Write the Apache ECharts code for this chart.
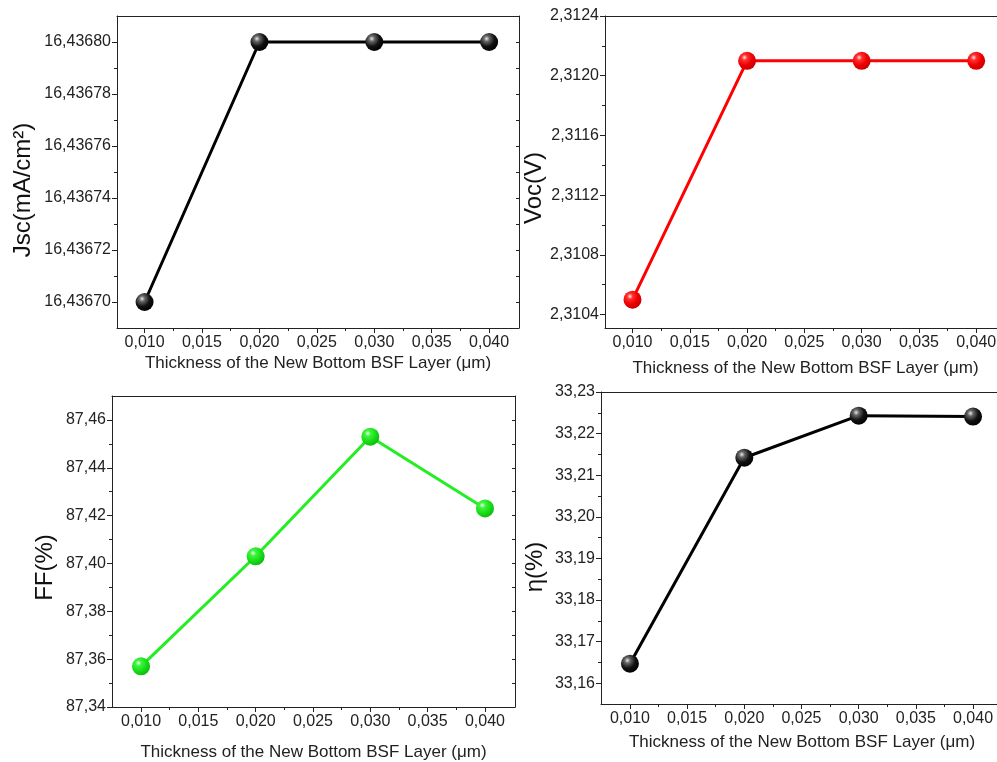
<!DOCTYPE html>
<html lang="en">
<head>
<meta charset="UTF-8">
<title>BSF layer thickness</title>
<style>html,body{margin:0;padding:0;background:#fff;overflow:hidden;} #main{width:1012px;height:762px;}</style>
</head>
<body>
<div id="main"></div>
<script src="https://cdn.jsdelivr.net/npm/echarts@6.0.0/dist/echarts.min.js"></script>
<script>
// data
var thickness = [0.010, 0.020, 0.030, 0.040];
var jscData = [16.43670, 16.43680, 16.43680, 16.43680];
var vocData = [2.3105, 2.3121, 2.3121, 2.3121];
var ffData = [87.357, 87.403, 87.453, 87.423];
var etaData = [33.1647, 33.2142, 33.2243, 33.2241];

// tick labels
var xTicks = [0.010, 0.015, 0.020, 0.025, 0.030, 0.035, 0.040];
var jscTicks = [16.43670, 16.43672, 16.43674, 16.43676, 16.43678, 16.43680];
var vocTicks = [2.3104, 2.3108, 2.3112, 2.3116, 2.3120, 2.3124];
var ffTicks = [87.34, 87.36, 87.38, 87.40, 87.42, 87.44, 87.46];
var etaTicks = [33.16, 33.17, 33.18, 33.19, 33.20, 33.21, 33.22, 33.23];

var xTitle = 'Thickness of the New Bottom BSF Layer (\u03bcm)';
var FONT = '"Liberation Sans", Arial, sans-serif';
var AXIS_COLOR = '#222';

function mids(a) {
    var r = [];
    for (var i = 0; i < a.length - 1; i++) r.push((a[i] + a[i + 1]) / 2);
    return r;
}
function fmt(d) {
    return function (v) { return v.toFixed(d).replace('.', ','); };
}
function ball(c0, c1, c2, c3) {
    return {type: 'radial', x: 0.36, y: 0.32, r: 0.72, colorStops: [
        {offset: 0, color: c0}, {offset: 0.22, color: c1}, {offset: 0.6, color: c2}, {offset: 1, color: c3}]};
}

// the right-hand panels run past the 997px window, as in the source figure
var panels = [
    {grid: {left: 117, top: 16, width: 402, height: 312}, xMin: 0.0076, xMax: 0.0426,
        yMin: 16.43669, yMax: 16.43681, yTicks: jscTicks, yDec: 5, yName: 'Jsc(mA/cm\u00b2)',
        yGap: 82, yPad: 36, xGap: 27, data: jscData, color: '#000',
        marker: ball('#e8e8e8', '#666', '#111', '#000')},
    {grid: {left: 605, top: 16, width: 401, height: 312}, xMin: 0.0076, xMax: 0.0426,
        yMin: 2.31031, yMax: 2.3124, yTicks: vocTicks, yDec: 4, yName: 'Voc(V)',
        yGap: 58, yPad: 32, xGap: 32, data: vocData, color: '#ff0000',
        marker: ball('#ffe6e6', '#ff3030', '#ee0000', '#c80000')},
    {grid: {left: 112, top: 396, width: 403, height: 312}, xMin: 0.00747, xMax: 0.04262,
        yMin: 87.34, yMax: 87.47, yTicks: ffTicks, yDec: 2, yName: 'FF(%)',
        yGap: 55, yPad: 32, xGap: 37, data: ffData, color: '#22ee22',
        marker: ball('#efffef', '#40f440', '#18e018', '#0cb80c')},
    {grid: {left: 601, top: 392, width: 402, height: 312}, xMin: 0.00747, xMax: 0.04262,
        yMin: 33.155, yMax: 33.23, yTicks: etaTicks, yDec: 2, yName: '\u03b7(%)',
        yGap: 54, yPad: 38, xGap: 30, data: etaData, color: '#000',
        marker: ball('#e8e8e8', '#666', '#111', '#000')}
];

var grids = [], xAxes = [], yAxes = [], series = [];
var lineStyle = {color: AXIS_COLOR, width: 1};

panels.forEach(function (p, i) {
    grids.push(p.grid);
    // bottom axis with labels and major ticks
    xAxes.push({gridIndex: i, type: 'value', position: 'bottom', min: p.xMin, max: p.xMax,
        axisLine: {show: true, onZero: false, lineStyle: lineStyle},
        axisTick: {show: true, customValues: xTicks, length: 5, lineStyle: lineStyle},
        axisLabel: {customValues: xTicks, formatter: fmt(3), fontSize: 16, color: '#222', margin: 7, fontFamily: FONT},
        splitLine: {show: false},
        name: xTitle, nameLocation: 'middle', nameGap: p.xGap,
        nameTextStyle: {fontSize: 17, color: '#222', fontFamily: FONT}});
    // bottom minor ticks
    xAxes.push({gridIndex: i, type: 'value', position: 'bottom', min: p.xMin, max: p.xMax,
        axisLine: {show: false, onZero: false},
        axisTick: {show: true, customValues: mids(xTicks), length: 3, lineStyle: lineStyle},
        axisLabel: {show: false}, splitLine: {show: false}});
    // top frame
    xAxes.push({gridIndex: i, type: 'value', position: 'top', min: p.xMin, max: p.xMax,
        axisLine: {show: true, onZero: false, lineStyle: lineStyle},
        axisTick: {show: false}, axisLabel: {show: false}, splitLine: {show: false}});

    // left axis with labels and major ticks
    yAxes.push({gridIndex: i, type: 'value', position: 'left', min: p.yMin, max: p.yMax,
        axisLine: {show: true, onZero: false, lineStyle: lineStyle},
        axisTick: {show: true, customValues: p.yTicks, length: 5, lineStyle: lineStyle},
        axisLabel: {customValues: p.yTicks, formatter: fmt(p.yDec), fontSize: 16, color: '#222', margin: 6, fontFamily: FONT},
        splitLine: {show: false},
        name: p.yName, nameLocation: 'middle', nameGap: p.yGap,
        nameTextStyle: {fontSize: 24, color: '#111', fontFamily: FONT, padding: [0, p.yPad, 0, 0]}});
    // left minor ticks
    yAxes.push({gridIndex: i, type: 'value', position: 'left', min: p.yMin, max: p.yMax,
        axisLine: {show: false, onZero: false},
        axisTick: {show: true, customValues: mids(p.yTicks), length: 3, lineStyle: lineStyle},
        axisLabel: {show: false}, splitLine: {show: false}});
    // right frame with inward ticks
    yAxes.push({gridIndex: i, type: 'value', position: 'right', min: p.yMin, max: p.yMax,
        axisLine: {show: true, onZero: false, lineStyle: lineStyle},
        axisTick: {show: true, inside: true, customValues: p.yTicks.concat(mids(p.yTicks)), length: 3, lineStyle: lineStyle},
        axisLabel: {show: false}, splitLine: {show: false}});

    series.push({
        type: 'line', xAxisIndex: 3 * i, yAxisIndex: 3 * i,
        data: thickness.map(function (x, j) { return [x, p.data[j]]; }),
        symbol: 'circle', symbolSize: 18, showSymbol: true,
        lineStyle: {color: p.color, width: 3},
        itemStyle: {color: p.marker, borderWidth: 0},
        emphasis: {disabled: true}
    });
});

var chart = echarts.init(document.getElementById('main'));
chart.setOption({
    animation: false,
    backgroundColor: '#fff',
    grid: grids,
    xAxis: xAxes,
    yAxis: yAxes,
    series: series
});
</script>
</body>
</html>
